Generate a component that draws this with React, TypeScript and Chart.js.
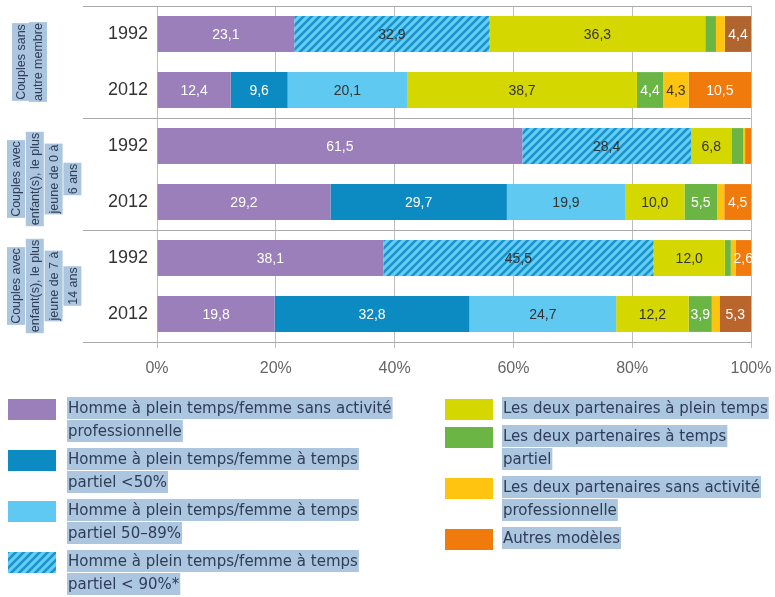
import React, { useEffect, useRef } from 'react';
import { Chart, registerables } from 'chart.js';

Chart.register(...registerables);

// ---------- data ----------
const years = ['1992', '2012', '1992', '2012', '1992', '2012'];
const groupLabels = [
  ['Couples sans', 'autre membre'],
  ['Couples avec', 'enfant(s), le plus', 'jeune de 0 à', '6 ans'],
  ['Couples avec', 'enfant(s), le plus', 'jeune de 7 à', '14 ans'],
];
const seriesNames = [
  'Homme à plein temps/femme sans activité professionnelle',
  'Homme à plein temps/femme à temps partiel <50%',
  'Homme à plein temps/femme à temps partiel 50–89%',
  'Homme à plein temps/femme à temps partiel < 90%*',
  'Les deux partenaires à plein temps',
  'Les deux partenaires à temps partiel',
  'Les deux partenaires sans activité professionnelle',
  'Autres modèles',
];
const hommeSansActivite = [23.1, 12.4, 61.5, 29.2, 38.1, 19.8];
const partielMoins50 = [0, 9.6, 0, 29.7, 0, 32.8];
const partiel50a89 = [0, 20.1, 0, 19.9, 0, 24.7];
const partielMoins90 = [32.9, 0, 28.4, 0, 45.5, 0];
const deuxPleinTemps = [36.3, 38.7, 6.8, 10.0, 12.0, 12.2];
const deuxTempsPartiel = [1.8, 4.4, 2.0, 5.5, 1.0, 3.9];
const deuxSansActivite = [1.5, 4.3, 0.3, 1.2, 0.8, 1.3];
const autresModeles = [4.4, 10.5, 1.0, 4.5, 2.6, 5.3];
const xTickValues = [0, 20, 40, 60, 80, 100];

const seriesValues = [
  hommeSansActivite,
  partielMoins50,
  partiel50a89,
  partielMoins90,
  deuxPleinTemps,
  deuxTempsPartiel,
  deuxSansActivite,
  autresModeles,
];

// ---------- styles ----------
const seriesColors = ['#9b7fba', '#0b8bc2', '#5fc9f1', 'HATCH', '#d5d800', '#6ab544', '#ffc40f', '#f07a0c'];
const labelColors = ['#ffffff', '#ffffff', '#333333', '#333333', '#333333', '#ffffff', '#333333', '#ffffff'];
const highlight = '#abc6de';
const textDark = '#2f3d57';
const FONT = '"Liberation Sans", Arial, sans-serif';
const LEGEND_FONT = '15px "DejaVu Sans", sans-serif';

function makeHatch(): CanvasPattern | string {
  const p = document.createElement('canvas');
  p.width = 8;
  p.height = 8;
  const c = p.getContext('2d');
  if (!c) return '#5fc9f1';
  c.fillStyle = '#66cdf4';
  c.fillRect(0, 0, 8, 8);
  c.strokeStyle = '#1a92cb';
  c.lineWidth = 2.6;
  c.beginPath();
  c.moveTo(-2, 10); c.lineTo(10, -2);
  c.moveTo(-2, 2); c.lineTo(2, -2);
  c.moveTo(6, 10); c.lineTo(10, 6);
  c.stroke();
  return c.createPattern(p, 'repeat') || '#5fc9f1';
}

function wrap(ctx: CanvasRenderingContext2D, text: string, maxW: number): string[] {
  const words = text.split(' ');
  const lines: string[] = [];
  let cur = '';
  for (const w of words) {
    const t = cur ? cur + ' ' + w : w;
    if (ctx.measureText(t).width > maxW && cur) {
      lines.push(cur);
      cur = w;
    } else cur = t;
  }
  if (cur) lines.push(cur);
  return lines;
}

export default function App() {
  const ref = useRef<HTMLCanvasElement | null>(null);

  useEffect(() => {
    if (!ref.current) return;
    const hatch = makeHatch();
    const colorFor = (i: number) => (seriesColors[i] === 'HATCH' ? hatch : seriesColors[i]);

    const datasets = seriesValues.map((vals, i) => ({
      label: seriesNames[i],
      data: vals,
      backgroundColor:
        i === 7
          ? vals.map((_, k) => (k === 0 ? '#b0652e' : k === 5 ? '#b9652c' : seriesColors[7]))
          : colorFor(i),
      borderWidth: 0,
      categoryPercentage: 1,
      barPercentage: 0.64,
    }));

    const decorPlugin = {
      id: 'decor',
      afterDatasetsDraw(chart: any) {
        const { ctx } = chart;
        // value labels
        ctx.save();
        ctx.font = `14px ${FONT}`;
        ctx.textAlign = 'center';
        ctx.textBaseline = 'middle';
        chart.data.datasets.forEach((ds: any, di: number) => {
          const meta = chart.getDatasetMeta(di);
          meta.data.forEach((el: any, k: number) => {
            const v = ds.data[k];
            if (v < 2.5) return;
            const { x, base, y } = el.getProps(['x', 'base', 'y'], true);
            ctx.fillStyle = labelColors[di];
            ctx.fillText(v.toFixed(1).replace('.', ','), (x + base) / 2, y + 1);
          });
        });
        ctx.restore();
      },
      afterDraw(chart: any) {
        const { ctx, chartArea, scales } = chart;
        const yS = scales.y;
        const left = 83;
        ctx.save();
        // group separators
        const seps = [
          chartArea.top,
          (yS.getPixelForValue(1) + yS.getPixelForValue(2)) / 2,
          (yS.getPixelForValue(3) + yS.getPixelForValue(4)) / 2,
          chartArea.bottom,
        ];
        ctx.strokeStyle = '#a9a9a9';
        ctx.lineWidth = 1;
        seps.forEach((sy) => {
          ctx.beginPath();
          ctx.moveTo(left, Math.round(sy) + 0.5);
          ctx.lineTo(chartArea.right, Math.round(sy) + 0.5);
          ctx.stroke();
        });
        // group labels (rotated)
        ctx.font = `12.5px ${FONT}`;
        ctx.textAlign = 'center';
        ctx.textBaseline = 'middle';
        groupLabels.forEach((lines, g) => {
          const cy = (seps[g] + seps[g + 1]) / 2 + (g === 1 ? 5 : 0);
          const startX = lines.length === 2 ? 21 : 16;
          const step = lines.length === 2 ? 17 : 18.8;
          lines.forEach((line, li) => {
            const x = startX + li * step;
            const w = ctx.measureText(line).width;
            ctx.save();
            ctx.translate(x, cy);
            ctx.rotate(-Math.PI / 2);
            ctx.fillStyle = highlight;
            ctx.fillRect(-w / 2 - 1, -9, w + 2, 18);
            ctx.fillStyle = textDark;
            ctx.fillText(line, 0, 1);
            ctx.restore();
          });
        });
        // legend
        ctx.font = LEGEND_FONT;
        ctx.textAlign = 'left';
        const cols = [
          { sx: 8, tx: 68, maxW: 336, items: [0, 1, 2, 3] },
          { sx: 445, tx: 503, maxW: 272, items: [4, 5, 6, 7] },
        ];
        cols.forEach((col) => {
          let y = 397;
          col.items.forEach((i) => {
            const lines = wrap(ctx, seriesNames[i], col.maxW);
            ctx.fillStyle = colorFor(i) as any;
            ctx.fillRect(col.sx, y + 2, 48, 21);
            lines.forEach((line, li) => {
              const ly = y + li * 23;
              const w = ctx.measureText(line).width;
              ctx.fillStyle = highlight;
              ctx.fillRect(col.tx - 1, ly, w + 2, 22);
              ctx.fillStyle = textDark;
              ctx.fillText(line, col.tx, ly + 12);
            });
            y += lines.length * 23 + 5;
          });
        });
        ctx.restore();
      },
    };

    const chart = new Chart(ref.current, {
      type: 'bar',
      data: { labels: years, datasets },
      options: {
        indexAxis: 'y',
        responsive: false,
        animation: false,
        devicePixelRatio: 1,
        layout: { padding: { top: 6, right: 24, bottom: 215, left: 0 } },
        plugins: { legend: { display: false }, tooltip: { enabled: false } },
        scales: {
          x: {
            stacked: true,
            min: 0,
            max: 100,
            afterFit: (s: any) => { s.height = 40; s.paddingLeft = 0; s.paddingRight = 0; },
            afterBuildTicks: (s: any) => { s.ticks = xTickValues.map((v) => ({ value: v })); },
            ticks: {
              callback: (v: any) => v + '%',
              color: '#666',
              font: { family: FONT, size: 16 },
              padding: 11,
            },
            grid: { color: '#bdbdbd', tickLength: 6, drawOnChartArea: true },
            border: { color: '#a9a9a9' },
          },
          y: {
            stacked: true,
            afterFit: (s: any) => { s.width = 157; s.paddingTop = 0; s.paddingBottom = 0; },
            ticks: { color: '#333', font: { family: FONT, size: 18 }, padding: 9 },
            grid: { display: false, drawTicks: false },
            border: { display: false },
          },
        },
      },
      plugins: [decorPlugin],
    });
    return () => chart.destroy();
  }, []);

  return (
    <div style={{ position: 'absolute', left: 0, top: 0, width: 775, height: 597, background: '#fff' }}>
      <canvas ref={ref} width={775} height={597} />
    </div>
  );
}
